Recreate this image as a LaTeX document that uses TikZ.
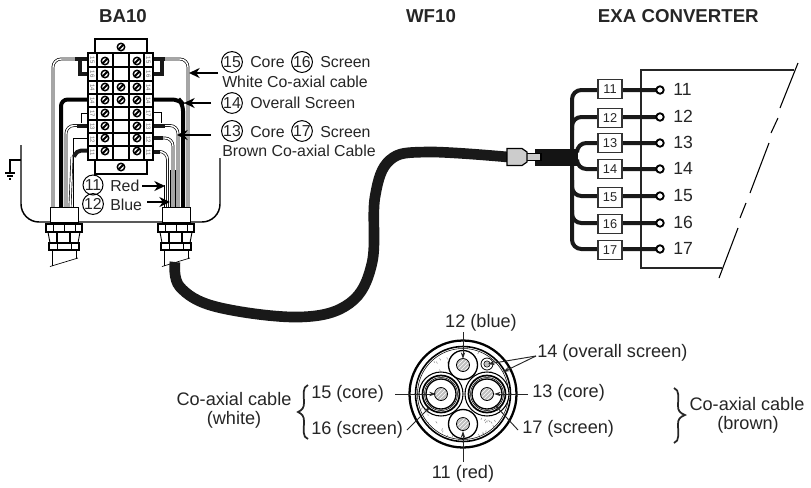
\documentclass[tikz,border=0pt]{standalone}
\usepackage{fontspec}
\setmainfont{Liberation Sans}
\usetikzlibrary{arrows.meta,patterns}
\newcommand{\pxfont}[1]{\fontsize{#1}{#1}\selectfont}
\newcommand{\myscrew}[2]{\draw[screwring] (#1,#2) circle[radius=3.7]; \draw[line width=1.4pt,line cap=butt] (#1-2.6,#2+2.6) -- (#1+2.6,#2-2.6);}
\newcommand{\gland}[1]{
  \begin{scope}[xshift=#1*0.75pt]
  \draw[thin1,fill=white] (50,207) rectangle (78,222);
  \draw[thin1,line width=.9pt,fill=white] (46,224) rectangle (82,232);
  \draw[thin1,line width=.6pt] (53,224)--(53,232) (64,224)--(64,232) (75,224)--(75,232);
  \draw[thin1,line width=.7pt] (48,232)--(50,243) (80,232)--(78,243);
  \draw[line width=.9pt] (57,232)--(57,243) (70,232)--(70,243);
  \draw[thin1,line width=.8pt,fill=white] (49,243) rectangle (79,250);
  \draw[thin1,line width=.5pt] (57,243)--(57,250) (71,243)--(71,250);
  \draw[thin1,line width=.5pt] (52,250)--(52,266) (76,250)--(76,259);
  \draw[thin1,line width=.5pt] (50,266.5)--(78,258);
  \end{scope}}
\newcommand{\conductor}[2]{
  \fill[gray!50] (#1,#2) circle[radius=6.5];
  \fill[pattern=north east lines,pattern color=white] (#1,#2) circle[radius=6.5];
  \draw[line width=.6pt] (#1,#2) circle[radius=6.5];}
\newcommand{\coax}[2]{
  \draw[line width=.8pt,fill=white] (#1,#2) circle[radius=22];
  \draw[line width=1.3pt] (#1,#2) circle[radius=18.5];
  \draw[line width=.4pt] (#1,#2) circle[radius=16.5];
  \draw[line width=1pt] (#1,#2) circle[radius=15];
  \conductor{#1}{#2}}
\tikzset{
  thin1/.style={line width=.75pt,draw=black},
  screwring/.style={line width=1.1pt,draw=black,fill=white},
  blackwire/.style={line width=3pt,line cap=butt,draw=black!90},
  doublewire/.style={draw=black,line width=.5pt,double=white,double distance=1.1pt,rounded corners=6pt},
  leader/.style={line width=.7pt,draw=black!85},
  ltip/.style={leader,-{Stealth[length=5pt,width=3.2pt]}},
  bigarrow/.style={line width=1.5pt,draw=black,-{Stealth[length=8pt,width=7.5pt]}},
  txt/.style={inner sep=0pt,text=black!85,font=\pxfont{13.6pt}},
  midtxt/.style={inner sep=0pt,text=black!85,font=\pxfont{11.9pt}},
  titletxt/.style={inner sep=0pt,text=black!85,font=\bfseries\pxfont{14pt}},
  ring/.style={circle,draw=black,line width=.75pt,minimum size=15pt,inner sep=0pt,text=black!85,font=\pxfont{11.9pt}},
  stripL/.style={inner sep=0pt,rotate=-90,font=\pxfont{4.5pt},text=black!60},
  stripR/.style={inner sep=0pt,rotate=-90,font=\pxfont{4.5pt},text=black!60},
  tbox/.style={draw=black!80,line width=.8pt,fill=white,minimum width=18pt,minimum height=14.6pt,inner sep=0pt,text=black!85,font=\pxfont{9.6pt}},
  tdot/.style={circle,draw=black,line width=1.4pt,fill=white,minimum size=5.6pt,inner sep=0pt},
  convline/.style={line width=1.5pt,draw=black!85},
  slashline/.style={line width=.8pt,draw=black},
}
\begin{document}
\begin{tikzpicture}[x=0.75pt,y=-0.75pt]
\useasboundingbox (0,0) rectangle (811,487);
\fill[white] (0,0) rectangle (811,487);
% titles
\node[titletxt,anchor=base] (tBA) at (123,22) {BA10};
\node[titletxt,anchor=base] (tWF) at (431,22) {WF10};
\node[titletxt,anchor=base east] (tEX) at (759,22) {EXA CONVERTER};
% housing
\draw[line width=1.1pt,rounded corners=13.5pt] (21,145) -- (21,222) -- (220,222) -- (220,158);
\draw[line width=.8pt] (21,160) -- (10,160) -- (10,173);
\draw[line width=1pt] (5,173) -- (15,173) (7,176) -- (13,176) (9,179) -- (11,179);
% left wires
\draw[doublewire] (77,59) -- (53,59) -- (53,207);
\draw[line width=3pt,draw=black,rounded corners=5pt] (88,99.5) -- (61,99.5) -- (61,207);
\draw[thin1] (88,113) -- (81,113) -- (81,123);
\draw[doublewire] (80,125.5) -- (66,125.5) -- (66,207);
\draw[thin1] (88,138) -- (73,138) -- (73,207);
\draw[doublewire] (72,157) -- (70,207);
\draw[blackwire,rounded corners=4pt] (88,150.5) -- (76,150.5) -- (74,157);
\draw[blackwire] (75,59) -- (88,59);
\draw[blackwire] (88,73.5) -- (80,73.5) -- (80,59);
\draw[blackwire] (77,125.5) -- (88,125.5);
% right wires
\draw[doublewire] (165,59) -- (188,59) -- (188,207);
\draw[line width=3pt,draw=black,rounded corners=5pt] (153,99.5) -- (179,99.5) -- (183,104) -- (183,207);
\draw[thin1] (153,112) -- (161,112) -- (161,123);
\draw[doublewire] (165,125.5) -- (178,125.5) -- (178,207);
\draw[doublewire] (162,138) -- (173,138) -- (173,207);
\draw[doublewire] (160,151.5) -- (167.5,151.5) -- (167.5,207);
\draw[line width=.5pt] (164,185) -- (164,207) (170.5,170) -- (170.5,207) (175.5,170) -- (175.5,207);
\draw[blackwire] (153,59) -- (165,59);
\draw[blackwire] (153,73.5) -- (162,73.5) -- (162,59);
\draw[blackwire] (153,125.5) -- (165,125.5);
\draw[blackwire] (153,138) -- (163,138);
\draw[blackwire] (153,151.5) -- (160,151.5);
% terminal block
\draw[line width=1.3pt,fill=white] (95,39) rectangle (147,53);
\draw[line width=1.3pt,fill=white] (95,160) rectangle (147,174);
\draw[line width=1.3pt,fill=white] (88,53) rectangle (153,160);
\foreach \yy in {67,81,94,107,120,133,146} \draw[line width=1pt] (88,\yy) -- (153,\yy);
\draw[line width=.9pt] (97,53) -- (97,160) (144,53) -- (144,160) (113,53) -- (113,160) (129,53) -- (129,160);
\foreach \yy/\lab [count=\n] in {60/15,74/16,87.5/14,100.5/14,113.5/17,126.5/13,139.5/12,152.5/11}{
  \node[stripL] (sl\n) at (92.5,\yy) {\lab};
  \node[stripR] (sr\n) at (148.5,\yy) {\lab};
}
\foreach \yy in {61,74,87,100,113,126,138,151}{\myscrew{105}{\yy}\myscrew{137}{\yy}}
\myscrew{121}{87}\myscrew{121}{100}
\myscrew{121}{47}\myscrew{121}{167}
% glands
\gland{0}
\gland{112}
% cable
\draw[line width=8pt,draw=black!90,line cap=butt] plot[smooth,tension=.62] coordinates {(175,262) (180,287) (217,307) (300,317) (350,303) (372,263) (375,197) (390,160) (427,152) (508,157)};
% converter wiring
\draw[blackwire,rounded corners=7pt] (572,150) -- (572,90) -- (660,90);
\draw[blackwire,rounded corners=7pt] (572,165) -- (572,249) -- (660,249);
\draw[blackwire,rounded corners=7pt] (572,130) -- (572,117) -- (660,117);
\draw[blackwire,rounded corners=7pt] (577,152) -- (577,143) -- (660,143);
\draw[blackwire,rounded corners=7pt] (577,162) -- (577,169) -- (660,169);
\draw[blackwire,rounded corners=7pt] (572,180) -- (572,196) -- (660,196);
\draw[blackwire,rounded corners=7pt] (572,210) -- (572,223) -- (660,223);
\fill[black!92] (535,149) rectangle (578,166);
\draw[line width=.9pt,fill=gray!40] (526,153.5) rectangle (541,160.5);
\draw[line width=.9pt,fill=gray!40] (507,148.5) -- (522,148.5) -- (527,152) -- (527,162) -- (522,165.5) -- (507,165.5) -- cycle;
% converter box
\draw[convline] (794,70) -- (641,70) -- (641,268) -- (722,268);
\foreach \yy/\lab/\byy [count=\n] in {90/11/89,117/12/118,143/13/143,169/14/169,196/15/197.5,223/16/224,249/17/250}{
  \draw[blackwire] (622,\yy) -- (656,\yy);
  \node[tbox] (box\lab) at (610,\byy) {\lab};
  \node[tdot] (dot\lab) at (660,\yy) {};
  \node[midtxt,font=\pxfont{13.2pt},anchor=west] (lab\lab) at (673,\yy-.5) {\lab};
}
\draw[slashline] (798,63) -- (780,108) (778,118) -- (771,133) (769,143) -- (750,193) (746,203) -- (740,218) (738,228) -- (719,278);
% top labels
\node[ring] (c15) at (232,62) {15};
\node[midtxt,anchor=base west] (tcore1) at (250,67) {Core};
\node[ring] (c16) at (302,62) {16};
\node[midtxt,anchor=base west] (tscr1) at (320,67) {Screen};
\node[midtxt,anchor=base west] (twhite) at (222,87) {White Co-axial cable};
\node[ring] (c14) at (232,103) {14};
\node[midtxt,anchor=base west] (tover) at (250,108) {Overall Screen};
\node[ring] (c13) at (232,131) {13};
\node[midtxt,anchor=base west] (tcore2) at (250,137) {Core};
\node[ring] (c17) at (302,131) {17};
\node[midtxt,anchor=base west] (tscr2) at (320,137) {Screen};
\node[midtxt,anchor=base west] (tbrown) at (222,156) {Brown Co-axial Cable};
\node[ring] (c11) at (93,185) {11};
\node[midtxt,anchor=base west] (tred) at (110,191) {Red};
\node[ring] (c12) at (93,204) {12};
\node[midtxt,anchor=base west] (tblue) at (110,210) {Blue};
\coordinate (a1) at (218,73); \coordinate (a1e) at (189,73);
\coordinate (a2) at (211,103); \coordinate (a2e) at (184,103);
\coordinate (a3) at (211,135); \coordinate (a3e) at (177,135);
\coordinate (a4) at (142,186); \coordinate (a4e) at (165,186);
\coordinate (a5) at (147,202); \coordinate (a5e) at (170,202);
\draw[bigarrow] (a1) -- (a1e);
\draw[bigarrow] (a2) -- (a2e);
\draw[bigarrow] (a3) -- (a3e);
\draw[bigarrow] (a4) -- (a4e);
\draw[bigarrow] (a5) -- (a5e);
% cross-section
\draw[line width=1.7pt,fill=white] (463,394) circle[radius=53.5];
\draw[line width=1.2pt] (463,394) circle[radius=47.5];
\draw[line width=.4pt] (463,394) circle[radius=45.5];
\begin{scope}
\clip (463,394) circle[radius=45];
\pgfmathsetseed{7}
\foreach \i in {1,...,130}{
  \pgfmathsetmacro{\aa}{rnd*360}
  \pgfmathsetmacro{\rr}{20+rnd*25}
  \pgfmathsetmacro{\dx}{rnd*3-1.5}
  \draw[line width=.35pt,draw=gray] ({463+\rr*cos(\aa)},{394+\rr*sin(\aa)}) -- ++(\dx,2);
}
\end{scope}
\coax{487}{394}
\coax{441}{394}
\draw[line width=1pt,fill=white] (463,365) circle[radius=14.5];
\conductor{463}{365}
\draw[line width=1pt,fill=white] (463,424) circle[radius=14.5];
\conductor{463}{424}
\draw[line width=.6pt,fill=white] (487,364) circle[radius=6];
\draw[line width=.4pt,fill=gray!50] (487,364) circle[radius=3.2];
% cross-section labels
\node[txt,anchor=base] (l12) at (481,327) {12 (blue)};
\node[txt,anchor=base west] (l14) at (537,357) {14 (overall screen)};
\node[txt,anchor=base west] (l13) at (532,397) {13 (core)};
\node[txt,anchor=base west] (l17) at (522,433) {17 (screen)};
\node[txt,anchor=base] (l11) at (463,478) {11 (red)};
\node[txt,anchor=base west] (l15) at (311,398) {15 (core)};
\node[txt,anchor=base west] (l16) at (311,434) {16 (screen)};
\node[txt,anchor=base] (lw1) at (234,405) {Co-axial cable};
\node[txt,anchor=base] (lw2) at (234,424) {(white)};
\node[txt,anchor=base] (lb1) at (747,410) {Co-axial cable};
\node[txt,anchor=base] (lb2) at (748,429) {(brown)};
\coordinate (t12) at (463,359); \coordinate (s12) at (463,332);
\coordinate (s14) at (536,356); \coordinate (t14a) at (488,364); \coordinate (t14b) at (503,372);
\coordinate (s13) at (528,394); \coordinate (t13) at (494,394);
\coordinate (s17) at (518,430); \coordinate (t17) at (495,405);
\coordinate (s15) at (395,394); \coordinate (t15) at (436,394);
\coordinate (s16) at (407,430); \coordinate (t16) at (430,407);
\coordinate (s11) at (463,462); \coordinate (t11) at (463,431);
\draw[ltip] (s12) -- (t12);
\draw[ltip] (s14) -- (t14a);
\draw[ltip] (s14) -- (t14b);
\draw[ltip] (s13) -- (t13);
\draw[ltip] (s17) -- (t17);
\draw[ltip] (s15) -- (t15);
\draw[ltip] (s16) -- (t16);
\draw[ltip] (s11) -- (t11);
% braces
\draw[line width=1.3pt,draw=black!85] (308,385) .. controls (302,387) and (304,395) .. (304,403) .. controls (304,408) and (302,410) .. (298,412) .. controls (302,414) and (304,416) .. (304,421) .. controls (304,430) and (302,437) .. (308,439);
\draw[line width=1.3pt,draw=black!85] (674,388) .. controls (680,390) and (678,398) .. (678,406) .. controls (678,411) and (680,413) .. (685,415) .. controls (680,417) and (678,419) .. (678,424) .. controls (678,433) and (680,441) .. (674,443);
\end{tikzpicture}
\end{document}
